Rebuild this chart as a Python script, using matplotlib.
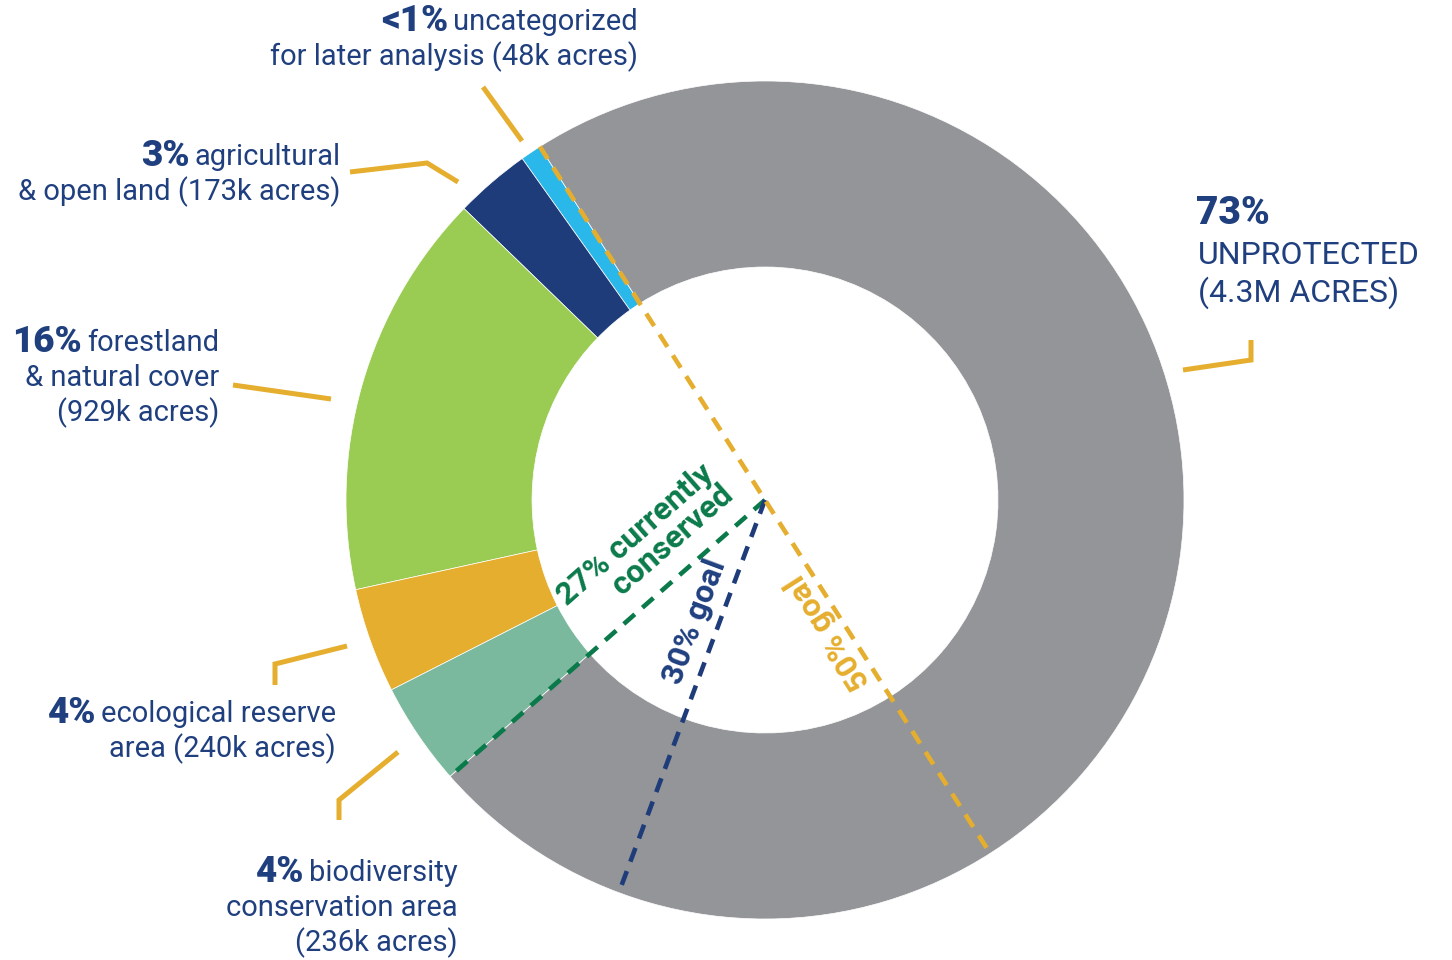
import numpy as np
import matplotlib
matplotlib.use("Agg")
import matplotlib.pyplot as plt

plt.rcParams['font.family'] = ['Roboto', 'DejaVu Sans']

# land categories, counterclockwise from the top boundary
categories = ["uncategorized", "agricultural", "forestland", "ecological reserve",
              "biodiversity", "unprotected"]
acres_k = [48, 173, 929, 240, 236, 4300]
colors = ["#29b8e9", "#1f3c7a", "#9acb52", "#e5ae2e", "#7ab99e", "#939598"]

pct_labels = ["<1%", "3%", "16%", "4%", "4%", "73%"]
desc_labels = [
    ["uncategorized", "for later analysis (48k acres)"],
    ["agricultural", "& open land (173k acres)"],
    ["forestland", "& natural cover", "(929k acres)"],
    ["ecological reserve", "area (240k acres)"],
    ["biodiversity", "conservation area", "(236k acres)"],
    ["UNPROTECTED", "(4.3M ACRES)"],
]

goal_30_pos = 0.353   # where the 30% goal line sits in the original drawing
goal_50_pos = 0.50

NAVY = "#1f3f7f"
GOLD = "#e5ae2e"
GREEN = "#0b7a4a"

W, H = 1452, 960
DPI = 100
cx, cy = 765, H - 500
R = 419
ring = 186
start = 122.5
FS = 21
FS_PCT = 26.5
FS_ROT = 23

fig = plt.figure(figsize=(W / DPI, H / DPI), dpi=DPI)
ax = fig.add_axes([0, 0, 1, 1])

ax.pie(acres_k, colors=colors, startangle=start, counterclock=True,
       center=(cx, cy), radius=R,
       wedgeprops=dict(width=ring, edgecolor="white", linewidth=0.5))
ax.set_xlim(0, W)
ax.set_ylim(0, H)
ax.set_aspect("equal")
ax.axis("off")

total = sum(acres_k)
conserved = sum(acres_k[:5]) / total


def ang(f):
    return np.deg2rad(start + 360 * f)


def ray(f, r0=0):
    a = ang(f)
    return [cx + r0 * np.cos(a), cx + R * np.cos(a)], [cy + r0 * np.sin(a), cy + R * np.sin(a)]


dash = dict(lw=3.3, dashes=(3.2, 2.2), solid_capstyle="butt", dash_capstyle="butt")
xs, ys = ray(conserved)
ax.plot(xs, ys, color="#0b7a4a", zorder=5, **dash)
xs, ys = ray(goal_30_pos)
ax.plot(xs, ys, color="#1f3c7a", zorder=5, **dash)
a0, a1 = ang(0), ang(goal_50_pos)
ax.plot([cx + R * np.cos(a0), cx + R * np.cos(a1)],
        [cy + R * np.sin(a0), cy + R * np.sin(a1)], color=GOLD, zorder=5, **dash)

# rotated line labels
ax.text(645, H - 545, "27% currently\nconserved", rotation=np.rad2deg(ang(conserved)) - 180,
        rotation_mode="anchor", ha="center", va="center", multialignment="right",
        color=GREEN, fontsize=FS_ROT, fontweight="bold", linespacing=0.92, zorder=6)
ax.text(695, H - 622, "30% goal", rotation=np.rad2deg(ang(goal_30_pos)) - 180,
        rotation_mode="anchor", ha="center", va="center",
        color=NAVY, fontsize=FS_ROT, fontweight="bold", zorder=6)
ax.text(828, H - 632, "50% goal", rotation=np.rad2deg(ang(0)),
        rotation_mode="anchor", ha="center", va="center",
        color=GOLD, fontsize=FS_ROT, fontweight="bold", zorder=6)

# side labels: (x anchor, y of first line, align)
label_pos = [(638, 22, "right"), (341, 157, "right"), (219, 343, "right"),
             (336, 714, "right"), (458, 873, "right"), (1198, 213, "left")]
step = 35

for i, (lx, ly, al) in enumerate(label_pos):
    lines = desc_labels[i]
    if al == "left":
        ax.text(lx - 2, H - ly, pct_labels[i], ha="left", va="center", color=NAVY,
                fontsize=FS_PCT + 1.5, fontweight="black")
        for j, s in enumerate(lines):
            ax.text(lx, H - (ly + 42 + 38 * j), s, ha="left", va="center",
                    color=NAVY, fontsize=FS + 2)
        continue
    first = ax.text(lx, H - ly, lines[0], ha="right", va="center", color=NAVY, fontsize=FS)
    ax.annotate(pct_labels[i], xy=(0, 0.5), xycoords=first, xytext=(-3.5, 0.5),
                textcoords="offset points", ha="right", va="center",
                color=NAVY, fontsize=FS_PCT, fontweight="black")
    for j, s in enumerate(lines[1:]):
        ax.text(lx, H - (ly + step * (j + 1)), s, ha="right", va="center",
                color=NAVY, fontsize=FS)

# leader lines
leaders = [
    [(483, 87), (522, 141)],
    [(350, 172), (427, 163), (458, 182)],
    [(233, 385), (331, 399)],
    [(275, 685), (275, 664), (347, 646)],
    [(339, 820), (339, 800), (398, 752)],
    [(1183, 370), (1251, 360), (1251, 340)],
]
for pts in leaders:
    ax.plot([p[0] for p in pts], [H - p[1] for p in pts], color=GOLD, lw=3.6,
            solid_joinstyle="miter", solid_capstyle="butt")

plt.savefig("out.png", dpi=DPI)
